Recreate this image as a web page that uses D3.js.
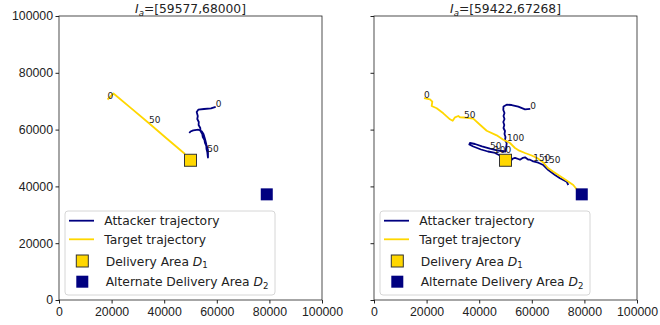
<!DOCTYPE html>
<html>
<head>
<meta charset="utf-8">
<script src="https://cdn.jsdelivr.net/npm/d3@7"></script>
<style>
  body { margin: 0; background: #fff; }
  svg { font-family: "DejaVu Sans", sans-serif; }
  .tick text { font-size: 12.3px; fill: #222; }
  .tick line { stroke: #222; }
</style>
</head>
<body>
<div id="chart"></div>
<script>
// axis setup
var axisMax = 100000;
var tickValues = [0, 20000, 40000, 60000, 80000, 100000];
var labelSteps = [0, 50, 100, 150];

// trajectories as [time step, x, y]
var attackerLeft = [
    [0, 59577, 68000], [3, 57790, 67500], [6, 55130, 67250], [9, 52960, 67000],
    [11, 52350, 66190], [14, 52770, 64790], [17, 52580, 63730], [20, 53150, 62670],
    [23, 53080, 61620], [26, 53720, 60560], [29, 53800, 59500], [32, 54480, 58450],
    [35, 54670, 57390], [38, 55320, 56340], [41, 55510, 55280], [44, 56000, 54220],
    [47, 56080, 53170], [50, 56380, 52110], [53, 56530, 50880], [55, 56650, 50170],
    [58, 56650, 52820], [62, 56080, 54580], [66, 55510, 56690], [70, 54940, 58450],
    [73, 54260, 59400], [76, 52960, 59960], [79, 51060, 59750], [82, 50000, 59330],
    [84, 49540, 58800]
];
var targetLeft = [
    [0, 18440, 70600], [3, 20720, 72710], [25, 27490, 67460], [50, 34220, 62220],
    [75, 41060, 56790], [97, 47910, 51410]
];
var attackerRight = [
    [0, 59422, 67268], [4, 57410, 67150], [8, 54860, 68060], [12, 52350, 68660],
    [15, 50450, 68770], [17, 49240, 68130], [19, 49160, 66900], [21, 49620, 65840],
    [23, 49240, 64790], [25, 49620, 63730], [27, 49160, 62670], [29, 49540, 61620],
    [31, 49240, 60560], [33, 49810, 59500], [35, 49620, 58450], [37, 50000, 57390],
    [39, 49810, 56340], [41, 50450, 55280], [43, 50300, 53870], [46, 50000, 52290],
    [48, 47140, 52640], [50, 44100, 53340], [57, 41060, 54120], [64, 38400, 54930],
    [70, 36500, 55280], [72, 36230, 54750], [76, 37750, 54050], [84, 40680, 52990],
    [92, 43340, 52290], [100, 45620, 51930], [104, 47530, 51050], [107, 49160, 50000],
    [110, 50450, 49120], [113, 51710, 48840], [117, 52850, 49820], [120, 53610, 50070],
    [124, 54860, 49650], [127, 55510, 49400], [131, 56650, 50070], [134, 57410, 50240],
    [138, 58550, 49470], [142, 59310, 49400], [146, 60070, 49050], [150, 60570, 48770],
    [155, 62470, 48340], [160, 64370, 47530], [165, 66270, 45770], [171, 68820, 44010],
    [176, 70720, 42850], [182, 73260, 41650], [186, 73870, 40490]
];
var targetRight = [
    [0, 19010, 71120], [4, 21290, 70670], [7, 22170, 69820], [10, 21940, 68310],
    [14, 23840, 67500], [22, 26350, 65740], [30, 28900, 63620], [33, 29920, 63130],
    [36, 30800, 64330], [40, 32050, 64790], [45, 32700, 64330], [50, 34220, 64260],
    [55, 37750, 63840], [62, 40300, 61720], [69, 42850, 59610], [78, 46650, 57990],
    [90, 49160, 56440], [100, 50570, 55810], [106, 51710, 55280], [112, 53610, 53520],
    [118, 55240, 52570], [126, 57410, 51760], [134, 59960, 50880], [142, 62350, 49820],
    [150, 64370, 48410], [158, 66150, 46480], [166, 68170, 45170], [176, 71970, 42850],
    [186, 75770, 40490], [191, 77290, 38730]
];
var deliveryArea1 = [50000, 49200];
var deliveryArea2 = [79000, 37200];

var attackerColor = "#000080";
var targetColor = "#ffd700";

var svg = d3.select("#chart").append("svg")
    .attr("width", 660)
    .attr("height", 325);

var panelW = 263, panelH = 284;

function drawPanel(left, attacker, target, showYLabels) {
    var g = svg.append("g").attr("transform", "translate(" + left + ",16)");

    var x = d3.scaleLinear().domain([0, axisMax]).range([0, panelW]);
    var y = d3.scaleLinear().domain([0, axisMax]).range([panelH, 0]);

    // axes
    var xAxis = d3.axisBottom(x).tickValues(tickValues).tickSize(3.5).tickPadding(3.5)
        .tickSizeOuter(0).tickFormat(d3.format("d"));
    var yAxis = d3.axisLeft(y).tickValues(tickValues).tickSize(3.5).tickPadding(2.5)
        .tickSizeOuter(0).tickFormat(showYLabels ? d3.format("d") : "");

    g.append("g").attr("transform", "translate(0," + panelH + ")").call(xAxis)
        .call(function(a) { a.select(".domain").remove(); })
        .selectAll("text").attr("font-family", null).attr("font-size", null);
    g.append("g").call(yAxis)
        .call(function(a) { a.select(".domain").remove(); })
        .selectAll("text").attr("font-family", null).attr("font-size", null);

    var line = d3.line()
        .x(function(d) { return x(d[1]); })
        .y(function(d) { return y(d[2]); });

    g.append("path").datum(attacker)
        .attr("d", line)
        .attr("fill", "none")
        .attr("stroke", attackerColor)
        .attr("stroke-width", 1.8)
        .attr("stroke-linejoin", "round");

    g.append("path").datum(target)
        .attr("d", line)
        .attr("fill", "none")
        .attr("stroke", targetColor)
        .attr("stroke-width", 1.8)
        .attr("stroke-linejoin", "round");

    // time step labels
    var labelled = attacker.concat(target).filter(function(d) {
        return labelSteps.indexOf(d[0]) >= 0;
    });
    g.selectAll(".step").data(labelled).enter().append("text")
        .attr("class", "step")
        .attr("x", function(d) { return x(d[1]); })
        .attr("y", function(d) { return y(d[2]); })
        .attr("font-size", 9)
        .attr("fill", "#222")
        .text(function(d) { return d[0]; });

    // delivery areas
    var sq = 12;
    g.append("rect")
        .attr("x", x(deliveryArea1[0]) - sq / 2)
        .attr("y", y(deliveryArea1[1]) - sq / 2)
        .attr("width", sq).attr("height", sq)
        .attr("fill", targetColor)
        .attr("stroke", "#333")
        .attr("stroke-width", 1);
    g.append("rect")
        .attr("x", x(deliveryArea2[0]) - sq / 2)
        .attr("y", y(deliveryArea2[1]) - sq / 2)
        .attr("width", sq).attr("height", sq)
        .attr("fill", attackerColor);

    // frame
    g.append("rect")
        .attr("width", panelW).attr("height", panelH)
        .attr("fill", "none")
        .attr("stroke", "#222")
        .attr("stroke-width", 0.8);

    // title: initial attacker position
    var title = g.append("text")
        .attr("x", panelW / 2)
        .attr("y", -3)
        .attr("text-anchor", "middle")
        .attr("font-size", 12.3)
        .attr("fill", "#222");
    title.append("tspan").attr("font-style", "italic").text("I");
    title.append("tspan").attr("font-style", "italic").attr("font-size", 8.6)
        .attr("dy", 2.5).text("a");
    title.append("tspan").attr("dy", -2.5)
        .text("=[" + attacker[0][1] + "," + attacker[0][2] + "]");

    // legend
    var lg = g.append("g").attr("transform", "translate(6,195)");
    lg.append("rect")
        .attr("width", 210).attr("height", 84)
        .attr("rx", 3)
        .attr("fill", "#fff").attr("fill-opacity", 0.8)
        .attr("stroke", "#d6d6d6");

    var rows = [9.7, 28.3, 50, 70.7];
    lg.append("line").attr("x1", 4).attr("x2", 29).attr("y1", rows[0]).attr("y2", rows[0])
        .attr("stroke", attackerColor).attr("stroke-width", 1.8);
    lg.append("line").attr("x1", 4).attr("x2", 29).attr("y1", rows[1]).attr("y2", rows[1])
        .attr("stroke", targetColor).attr("stroke-width", 1.8);
    lg.append("rect").attr("x", 17.3 - sq / 2).attr("y", rows[2] - sq / 2)
        .attr("width", sq).attr("height", sq)
        .attr("fill", targetColor).attr("stroke", "#333");
    lg.append("rect").attr("x", 17.3 - sq / 2).attr("y", rows[3] - sq / 2)
        .attr("width", sq).attr("height", sq)
        .attr("fill", attackerColor);

    function legendText(row, tx, label, sub) {
        var t = lg.append("text")
            .attr("x", tx).attr("y", rows[row] + 4.5)
            .attr("font-size", 12.3)
            .attr("fill", "#222");
        t.append("tspan").text(label);
        if (sub) {
            t.append("tspan").attr("font-style", "italic").text("D");
            t.append("tspan").attr("font-size", 8.6).attr("dy", 2.5).text(sub);
        }
    }
    legendText(0, 39.3, "Attacker trajectory");
    legendText(1, 39.3, "Target trajectory");
    legendText(2, 40.7, "Delivery Area ", "1");
    legendText(3, 40.7, "Alternate Delivery Area ", "2");
}

drawPanel(59, attackerLeft, targetLeft, true);
drawPanel(374, attackerRight, targetRight, false);
</script>
</body>
</html>
